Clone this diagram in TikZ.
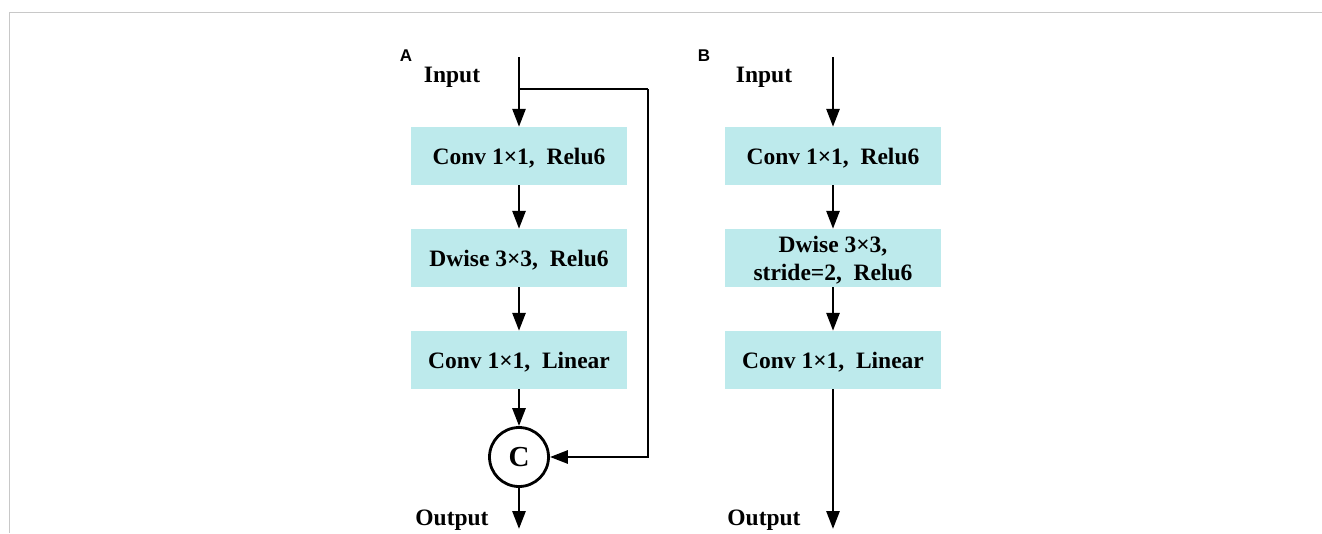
\documentclass[tikz,border=0pt]{standalone}
\usepackage{fontspec}
\setmainfont{Liberation Serif}
\newfontfamily\labfont{Liberation Sans}
\usetikzlibrary{arrows.meta}
\definecolor{boxfill}{RGB}{189,234,236}
\definecolor{frame}{RGB}{200,200,200}
\begin{document}
\begin{tikzpicture}[x=1pt,y=-1pt,
  blk/.style={rectangle,fill=boxfill,minimum width=216pt,minimum height=58pt,inner sep=0pt,
    font=\fontsize{23.5}{28}\selectfont\bfseries,align=center,text depth=0pt},
  oneline/.style={text height=17pt},
  lbl/.style={font=\fontsize{23.5}{28}\selectfont\bfseries,inner sep=0pt},
  panel/.style={font=\labfont\fontsize{17}{20}\selectfont\bfseries,inner sep=0pt},
  arr/.style={line width=2.8pt,-{Triangle[length=18pt,width=13pt]}},
  ln/.style={line width=2.8pt}]
\useasboundingbox (0,0) rectangle (1322,533);
\draw[frame,line width=1.2pt] (9.5,533) -- (9.5,12.5) -- (1322,12.5);
% Panel A
\node[panel] (pa) at (406,56) {A};
\node[lbl] (ain) at (452,77) {Input};
\node[lbl] (aout) at (452,520) {Output};
\node[blk,oneline] (a1) at (519,156) {Conv 1×1,~~Relu6};
\node[blk,oneline] (a2) at (519,258) {Dwise 3×3,~~Relu6};
\node[blk,oneline] (a3) at (519,360) {Conv 1×1,~~Linear};
\node[circle,draw,line width=2.8pt,minimum size=59pt,inner sep=0pt,
  font=\fontsize{29}{30}\selectfont\bfseries] (c) at (519,457) {C};
\coordinate (atop) at (519,57);
\coordinate (abr) at (519,89);
\coordinate (askip) at (648,89);
\coordinate (aend) at (519,529);
\draw[arr] (atop) -- (a1);
\draw[ln] (abr) -- (askip);
\draw[arr] (askip) |- (c.east);
\draw[arr] (a1) -- (a2);
\draw[arr] (a2) -- (a3);
\draw[arr] (a3) -- (c);
\draw[arr] (c) -- (aend);
% Panel B
\node[panel] (pb) at (704,56) {B};
\node[lbl] (bin) at (764,77) {Input};
\node[lbl] (bout) at (764,520) {Output};
\node[blk,oneline] (b1) at (833,156) {Conv 1×1,~~Relu6};
\node[blk] (b2) at (833,258) {Dwise 3×3,\\stride=2,~~Relu6};
\node[blk,oneline] (b3) at (833,360) {Conv 1×1,~~Linear};
\coordinate (btop) at (833,57);
\coordinate (bend) at (833,529);
\draw[arr] (btop) -- (b1);
\draw[arr] (b1) -- (b2);
\draw[arr] (b2) -- (b3);
\draw[arr] (b3) -- (bend);
\end{tikzpicture}
\end{document}
